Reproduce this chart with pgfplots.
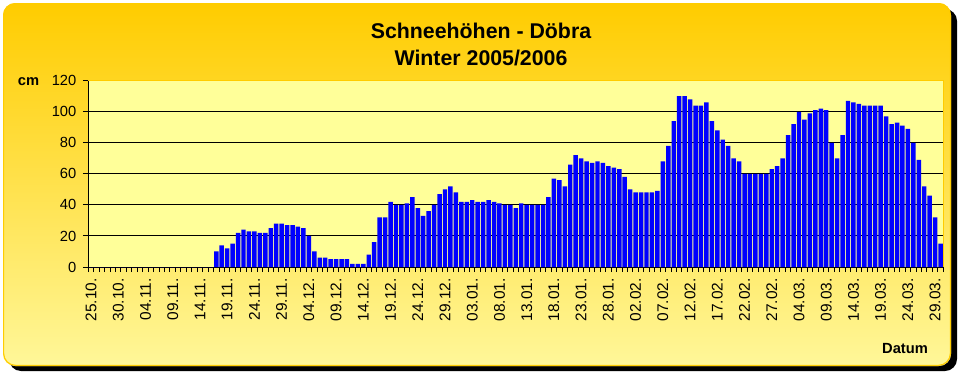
\documentclass[border=0pt]{standalone}
\usepackage{pgfplots}
\usepackage{pgfplotstable}
\pgfplotsset{compat=1.18}
\usepackage{fontspec}
\setmainfont{Liberation Sans}
\definecolor{gold}{HTML}{FFCC00}
\definecolor{pale}{HTML}{FFF799}
\definecolor{plotbg}{HTML}{FFFF99}
\definecolor{barblue}{HTML}{0000FF}

\pgfplotstableread{
idx cm
0 0
1 0
2 0
3 0
4 0
5 0
6 0
7 0
8 0
9 0
10 0
11 0
12 0
13 0
14 0
15 0
16 0
17 0
18 0
19 0
20 0
21 0
22 0
23 10
24 14
25 12
26 15
27 22
28 24
29 23
30 23
31 22
32 22
33 25
34 28
35 28
36 27
37 27
38 26
39 25
40 20
41 10
42 6
43 6
44 5
45 5
46 5
47 5
48 2
49 2
50 2
51 8
52 16
53 32
54 32
55 42
56 40
57 40
58 41
59 45
60 38
61 33
62 36
63 40
64 47
65 50
66 52
67 48
68 42
69 42
70 43
71 42
72 42
73 43
74 42
75 41
76 40
77 40
78 38
79 41
80 40
81 40
82 40
83 40
84 45
85 57
86 56
87 52
88 66
89 72
90 70
91 68
92 67
93 68
94 67
95 65
96 64
97 63
98 58
99 50
100 48
101 48
102 48
103 48
104 49
105 68
106 78
107 94
108 110
109 110
110 108
111 104
112 104
113 106
114 94
115 88
116 82
117 78
118 70
119 68
120 60
121 60
122 60
123 60
124 60
125 63
126 65
127 70
128 85
129 92
130 100
131 95
132 99
133 101
134 102
135 101
136 80
137 70
138 85
139 107
140 106
141 105
142 104
143 104
144 104
145 104
146 97
147 92
148 93
149 91
150 89
151 80
152 69
153 52
154 46
155 32
156 15
}\snowdata

\begin{document}
\begin{tikzpicture}
\path[use as bounding box] (0bp,0bp) rectangle (960bp,-374bp);
\fill[black, rounded corners=12bp] (9bp,-9bp) rectangle (957bp,-371bp);
\shade[top color=gold, bottom color=pale, rounded corners=12bp] (3bp,-3bp) rectangle (951bp,-366bp);
\draw[gold, line width=1.2bp, rounded corners=12bp] (3.6bp,-3.6bp) rectangle (950.4bp,-365.4bp);
\node[font=\fontsize{21.4}{25}\selectfont\bfseries, anchor=base, inner sep=0pt] at (481bp,-38.3bp) {Schneehöhen - Döbra};
\node[font=\fontsize{21.4}{25}\selectfont\bfseries, anchor=base, inner sep=0pt] at (481bp,-65.7bp) {Winter 2005/2006};
\node[font=\fontsize{14.75}{17}\selectfont\bfseries, anchor=base, inner sep=0pt] at (28.5bp,-85.5bp) {cm};
\node[font=\fontsize{14.75}{17}\selectfont\bfseries, anchor=base, inner sep=0pt] at (905bp,-353bp) {Datum};
\begin{axis}[
  at={(88.3bp,-267bp)}, anchor=south west,
  scale only axis, width=855bp, height=186.3bp,
  xmin=-0.5, xmax=156.5, ymin=0, ymax=120,
  axis x line*=bottom, axis y line*=left,
  axis line style={black, line width=1bp},
  axis background/.style={fill=plotbg},
  ybar, bar width=0.82,
  ytick={0,20,...,120},
  ymajorgrids, grid style={black, line width=1bp},
  xtick={0,5,...,155},
  xticklabels={25.10.,30.10.,04.11.,09.11.,14.11.,19.11.,24.11.,29.11.,04.12.,09.12.,14.12.,19.12.,24.12.,29.12.,03.01.,08.01.,13.01.,18.01.,23.01.,28.01.,02.02.,07.02.,12.02.,17.02.,22.02.,27.02.,04.03.,09.03.,14.03.,19.03.,24.03.,29.03.},
  minor xtick={-0.5,0.5,...,156.5},
  tick align=outside,
  major tick length=5.5bp, minor tick length=5bp,
  major x tick style={draw=none},
  minor x tick style={black, line width=1bp},
  major y tick style={black, line width=1bp},
  /pgf/number format/assume math mode=true,
  ticklabel style={font=\fontsize{14.75}{17}\selectfont},
  xticklabel style={rotate=90, anchor=east, xshift=-2.5bp, font=\fontsize{15.5}{18}\selectfont},
  yticklabel style={anchor=east, xshift=-3bp},
  clip=false,
]
\addplot[fill=barblue, draw=none] table[x=idx, y=cm] {\snowdata};
\draw[gold, line width=1.2bp] (rel axis cs:0,1) -- (rel axis cs:1,1) -- (rel axis cs:1,0);
\end{axis}
\end{tikzpicture}
\end{document}
